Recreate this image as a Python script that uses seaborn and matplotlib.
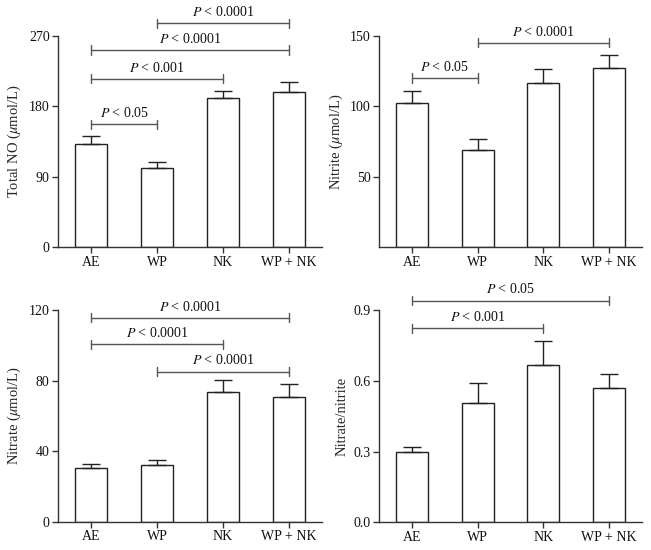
import matplotlib
matplotlib.use("Agg")
import matplotlib.pyplot as plt
import seaborn as sns
import pandas as pd
import numpy as np

groups = ["AE", "WP", "NK", "WP + NK"]

total_no = [132, 101, 190, 198]
total_no_err = [10, 8, 10, 13]
nitrite = [102.5, 69, 116.5, 127]
nitrite_err = [8.5, 8, 10, 9.5]
nitrate = [30.2, 32, 73.8, 71]
nitrate_err = [2.3, 3.3, 6.5, 7]
ratio = [0.298, 0.505, 0.669, 0.570]
ratio_err = [0.023, 0.085, 0.10, 0.06]

ylabels = [r"Total NO ($\mu$mol/L)", r"Nitrite ($\mu$mol/L)",
           r"Nitrate ($\mu$mol/L)", "Nitrate/nitrite"]
yticks_list = [[0, 90, 180, 270], [50, 100, 150], [0, 40, 80, 120], [0.0, 0.3, 0.6, 0.9]]
ytick_labels = [["0", "90", "180", "270"], ["50", "100", "150"],
                ["0", "40", "80", "120"], ["0.0", "0.3", "0.6", "0.9"]]
ylims = [270, 150, 120, 0.9]

# brackets: (start index, end index, y level, label)
brackets = [
    [(0, 1, 157, "< 0.05"), (0, 2, 215, "< 0.001"), (0, 3, 251.7, "< 0.0001"), (1, 3, 286, "< 0.0001")],
    [(0, 1, 120, "< 0.05"), (1, 3, 145, "< 0.0001")],
    [(0, 3, 115.8, "< 0.0001"), (0, 2, 100.7, "< 0.0001"), (1, 3, 85.2, "< 0.0001")],
    [(0, 3, 0.941, "< 0.05"), (0, 2, 0.823, "< 0.001")],
]

sns.set_style("ticks")
plt.rcParams["font.family"] = ["Liberation Serif", "DejaVu Serif"]
plt.rcParams["mathtext.fontset"] = "stix"

fig = plt.figure(figsize=(6.51, 5.5), dpi=100)
positions = [
    [0.0891, 0.5504, 0.4055, 0.3847],
    [0.5826, 0.5504, 0.4030, 0.3847],
    [0.0891, 0.0515, 0.4055, 0.3842],
    [0.5826, 0.0504, 0.4030, 0.3855],
]
values = [total_no, nitrite, nitrate, ratio]
errors = [total_no_err, nitrite_err, nitrate_err, ratio_err]

spine_col = "#333333"
br_col = "#555555"

for i in range(4):
    ax = fig.add_axes(positions[i])
    df = pd.DataFrame({"group": groups, "value": values[i]})
    sns.barplot(data=df, x="group", y="value", ax=ax, color="white",
                edgecolor="#222222", linewidth=1.0, width=0.49,
                errorbar=None, saturation=1)
    ax.errorbar(x=np.arange(4), y=values[i],
                yerr=[np.zeros(4), errors[i]], fmt="none",
                ecolor="#222222", elinewidth=1.0, capsize=6.5, capthick=1.0)
    ax.set_xlim(-0.5, 3.5)
    ax.set_ylim(0, ylims[i])
    ax.set_yticks(yticks_list[i])
    ax.set_yticklabels(ytick_labels[i])
    ax.set_xlabel("")
    ax.set_ylabel(ylabels[i], fontsize=10.5, labelpad=4)
    ax.tick_params(axis="both", labelsize=10, length=4, width=1,
                   color=spine_col, labelcolor="#111111", pad=2)
    for s in ["top", "right"]:
        ax.spines[s].set_visible(False)
    for s in ["left", "bottom"]:
        ax.spines[s].set_color(spine_col)
        ax.spines[s].set_linewidth(1.0)
    yr = ylims[i]
    tick_half = yr * 0.022
    for (a, b, y, lab) in brackets[i]:
        ax.plot([a, b], [y, y], color=br_col, lw=1.0, clip_on=False)
        for xx in (a, b):
            ax.plot([xx, xx], [y - tick_half, y + tick_half], color=br_col,
                    lw=1.0, clip_on=False)
        ax.text((a + b) / 2, y + yr * 0.02, r"$P$ " + lab, ha="center",
                va="bottom", fontsize=10, color="#111111", clip_on=False)

fig.savefig("out.png", dpi=100)
